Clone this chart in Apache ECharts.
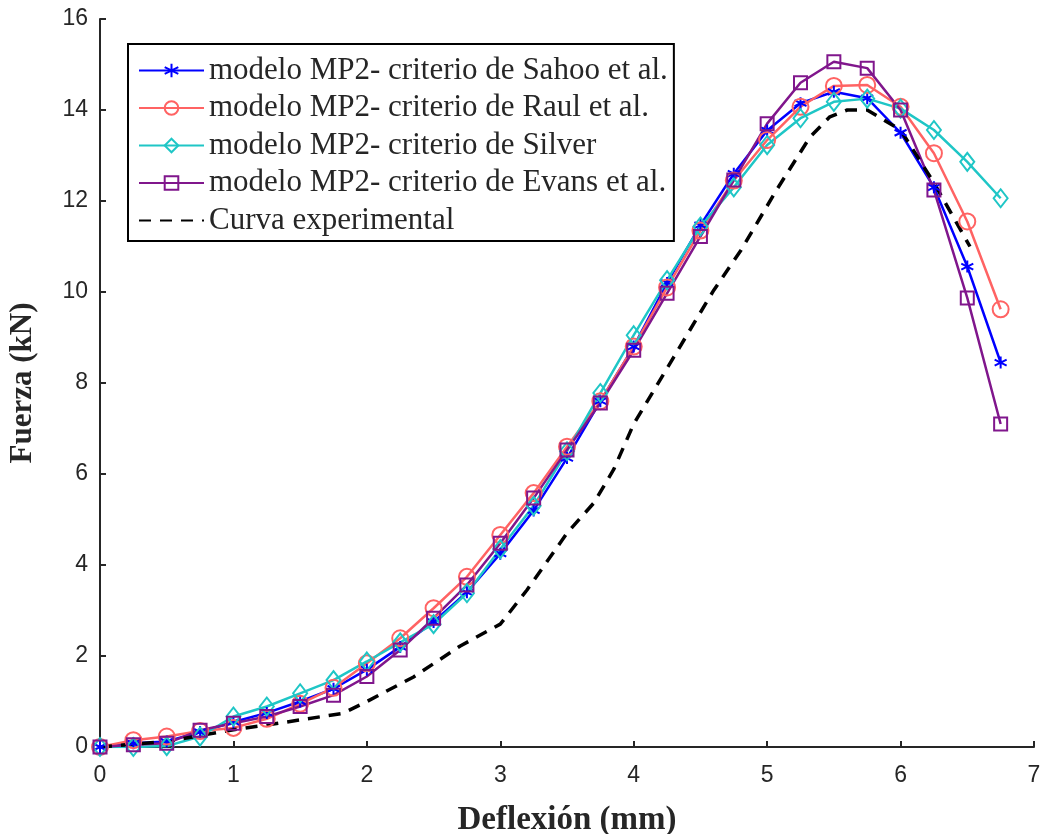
<!DOCTYPE html>
<html>
<head>
<meta charset="utf-8">
<title>Fuerza - Deflexión</title>
<script src="https://cdn.jsdelivr.net/npm/echarts@6/dist/echarts.min.js"></script>
<style>
  html, body { margin: 0; padding: 0; background: #fff; }
  #main { width: 1041px; height: 834px; }
</style>
</head>
<body>
<div id="main"></div>
<script>
// deflexión (mm) de los modelos
var deflexion = [0, 0.25, 0.5, 0.75, 1, 1.25, 1.5, 1.75, 2, 2.25, 2.5, 2.75, 3, 3.25,
                 3.5, 3.75, 4, 4.25, 4.5, 4.75, 5, 5.25, 5.5, 5.75, 6, 6.25, 6.5, 6.75];
// fuerza (kN)
var sahoo = [0, 0.08, 0.12, 0.33, 0.55, 0.75, 1.0, 1.28, 1.7, 2.2, 2.75, 3.4, 4.25, 5.2,
             6.35, 7.6, 8.8, 10.2, 11.47, 12.6, 13.55, 14.15, 14.4, 14.26, 13.5, 12.3, 10.56, 8.45];
var raul = [0, 0.15, 0.23, 0.35, 0.42, 0.62, 0.95, 1.3, 1.84, 2.39, 3.05, 3.74, 4.66, 5.58,
            6.6, 7.6, 8.8, 10.1, 11.35, 12.45, 13.34, 14.07, 14.53, 14.55, 14.07, 13.05, 11.55, 9.62];
var silver = [0, 0.0, 0.02, 0.23, 0.67, 0.89, 1.18, 1.47, 1.88, 2.3, 2.7, 3.38, 4.35, 5.3,
              6.5, 7.78, 9.05, 10.26, 11.44, 12.3, 13.23, 13.82, 14.18, 14.25, 14.03, 13.56, 12.86, 12.06];
var evans = [0, 0.05, 0.08, 0.37, 0.52, 0.67, 0.89, 1.14, 1.55, 2.13, 2.83, 3.56, 4.48, 5.47,
             6.53, 7.56, 8.72, 9.97, 11.22, 12.46, 13.7, 14.6, 15.06, 14.92, 14.0, 12.24, 9.87, 7.1];
// curva experimental
var expX = [0, 0.5, 1, 1.4, 1.82, 2.0, 2.35, 2.7, 3.0, 3.2, 3.5, 3.7, 3.85, 4.0, 4.3, 4.6,
            4.8, 5.07, 5.32, 5.47, 5.6, 5.75, 6.0, 6.25, 6.52];
var expY = [0, 0.12, 0.38, 0.55, 0.74, 1.0, 1.54, 2.22, 2.7, 3.45, 4.7, 5.36, 6.1, 7.1, 8.57, 10.04,
            10.9, 12.24, 13.4, 13.85, 14.0, 14.0, 13.56, 12.4, 11.0];

var nombres = [
  'modelo MP2- criterio de Sahoo et al.',
  'modelo MP2- criterio de Raul et al.',
  'modelo MP2- criterio de Silver',
  'modelo MP2- criterio de Evans et al.',
  'Curva experimental'
];

function pares(xs, ys) {
  var out = [];
  for (var i = 0; i < xs.length; i++) out.push([xs[i], ys[i]]);
  return out;
}

var asterisco = 'path://M5,0L5,10M0.7,2.5L9.3,7.5M0.7,7.5L9.3,2.5';

function serieModelo(nombre, ys, color, simbolo, tam) {
  return {
    name: nombre,
    type: 'line',
    data: pares(deflexion, ys),
    symbol: simbolo,
    symbolSize: tam,
    lineStyle: { color: color, width: 2.5 },
    itemStyle: { color: 'rgba(0,0,0,0)', borderColor: color, borderWidth: 2 }
  };
}

var chart = echarts.init(document.getElementById('main'));
var ejeTexto = { color: '#262626', fontFamily: 'Liberation Sans', fontSize: 23 };

var option = {
  animation: false,
  grid: { left: 100, right: 7, top: 19, bottom: 87, outerBoundsMode: 'none', containLabel: false },
  legend: {
    orient: 'vertical',
    left: 128,
    top: 44,
    data: [
      nombres[0], nombres[1], nombres[2], nombres[3],
      { name: nombres[4], itemStyle: { color: 'rgba(0,0,0,0)', borderWidth: 0 } }
    ],
    padding: [11, 6, 5, 10],
    borderColor: '#000',
    borderWidth: 2,
    itemWidth: 65,
    itemHeight: 17,
    itemGap: 6.5,
    textStyle: { fontFamily: 'Liberation Serif', fontSize: 31, color: '#262626', lineHeight: 31 }
  },
  xAxis: {
    type: 'value',
    min: 0, max: 7, interval: 1,
    name: 'Deflexión (mm)',
    nameLocation: 'middle',
    nameGap: 57,
    nameTextStyle: { fontFamily: 'Liberation Serif', fontWeight: 'bold', fontSize: 33, color: '#262626' },
    axisLine: { lineStyle: { color: '#262626', width: 2 } },
    axisTick: { inside: true, length: 6, lineStyle: { color: '#262626', width: 2 } },
    axisLabel: Object.assign({ margin: 17 }, ejeTexto),
    splitLine: { show: false }
  },
  yAxis: {
    type: 'value',
    min: 0, max: 16, interval: 2,
    name: 'Fuerza (kN)',
    nameLocation: 'middle',
    nameGap: 62,
    nameTextStyle: { fontFamily: 'Liberation Serif', fontWeight: 'bold', fontSize: 31, color: '#262626' },
    axisLine: { show: true, lineStyle: { color: '#262626', width: 2 } },
    axisTick: { show: true, inside: true, length: 6, lineStyle: { color: '#262626', width: 2 } },
    axisLabel: Object.assign({ margin: 12 }, ejeTexto),
    splitLine: { show: false }
  },
  series: [
    {
      name: nombres[0],
      type: 'line',
      data: pares(deflexion, sahoo),
      symbol: asterisco,
      symbolSize: 12,
      lineStyle: { color: '#0000ff', width: 2.5 },
      itemStyle: { color: '#0000ff', borderColor: '#0000ff', borderWidth: 2 }
    },
    serieModelo(nombres[1], raul, '#ff6363', 'circle', 16),
    serieModelo(nombres[2], silver, '#1fc6c6', 'diamond', [14, 18]),
    serieModelo(nombres[3], evans, '#80168c', 'rect', 13),
    {
      name: nombres[4],
      type: 'line',
      data: pares(expX, expY),
      symbol: 'none',
      lineStyle: { color: '#000', width: 3.5, type: [12, 9] },
      itemStyle: { color: '#000' }
    }
  ]
};

chart.setOption(option);
</script>
</body>
</html>
